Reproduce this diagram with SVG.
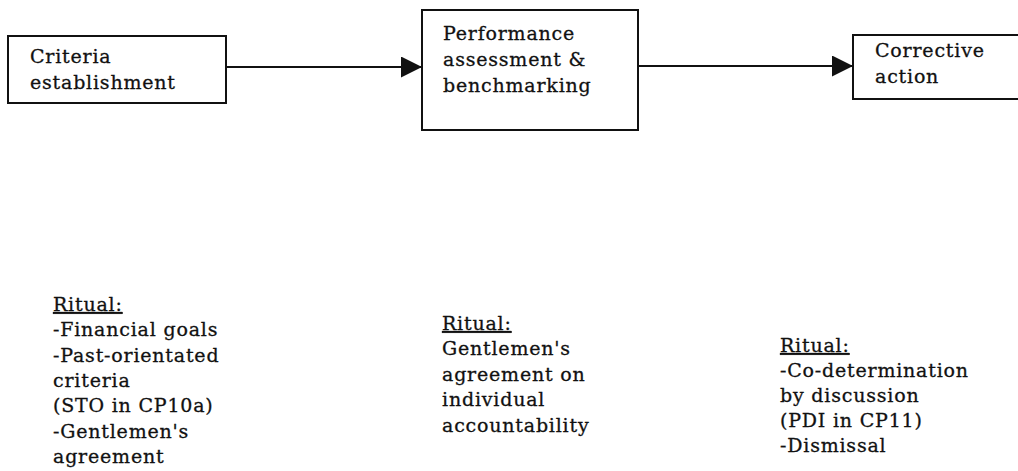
<svg xmlns="http://www.w3.org/2000/svg" width="1018" height="471" viewBox="0 0 1018 471">
  <style>
    .box { fill: #ffffff; stroke: #111111; stroke-width: 2; }
    .lbl, .note { font-family: "DejaVu Serif", "Liberation Serif", serif; font-size: 19px; letter-spacing: 0.8px; fill: #111111; stroke: #111111; stroke-width: 0.3px; }
    .head { text-decoration: underline; }
    .conn { stroke: #111111; stroke-width: 2; fill: none; }
  </style>
  <defs>
    <marker id="arrow" markerUnits="userSpaceOnUse" markerWidth="22" markerHeight="22" refX="21" refY="10.5" orient="auto">
      <path d="M0,0 L21,10.5 L0,21 Z" fill="#111111"/>
    </marker>
  </defs>
  <rect width="1018" height="471" fill="#ffffff"/>

  <!-- process chain -->
  <g id="connectors">
    <line class="conn" x1="226" y1="67" x2="422" y2="67" marker-end="url(#arrow)"/>
    <line class="conn" x1="638" y1="66" x2="853" y2="66" marker-end="url(#arrow)"/>
  </g>

  <g id="criteria">
    <rect class="box" x="8" y="36" width="218" height="67"/>
    <text class="lbl" x="30" y="63">Criteria</text>
    <text class="lbl" x="30" y="89">establishment</text>
  </g>

  <g id="assessment">
    <rect class="box" x="422" y="10" width="216" height="120"/>
    <text class="lbl" x="443" y="40">Performance</text>
    <text class="lbl" x="443" y="66">assessment &amp;</text>
    <text class="lbl" x="443" y="92">benchmarking</text>
  </g>

  <g id="corrective">
    <rect class="box" x="853" y="35" width="180" height="64"/>
    <text class="lbl" x="875" y="57">Corrective</text>
    <text class="lbl" x="875" y="83">action</text>
  </g>

  <!-- rituals attached to each stage -->
  <g id="ritual-criteria">
    <text class="note head" x="53" y="311">Ritual:</text>
    <text class="note" x="53" y="336">-Financial goals</text>
    <text class="note" x="53" y="362">-Past-orientated</text>
    <text class="note" x="53" y="387">criteria</text>
    <text class="note" x="53" y="412">(STO in CP10a)</text>
    <text class="note" x="53" y="438">-Gentlemen's</text>
    <text class="note" x="53" y="463">agreement</text>
  </g>

  <g id="ritual-assessment">
    <text class="note head" x="442" y="330">Ritual:</text>
    <text class="note" x="442" y="355">Gentlemen's</text>
    <text class="note" x="442" y="381">agreement on</text>
    <text class="note" x="442" y="406">individual</text>
    <text class="note" x="442" y="432">accountability</text>
  </g>

  <g id="ritual-corrective">
    <text class="note head" x="780" y="352">Ritual:</text>
    <text class="note" x="780" y="377">-Co-determination</text>
    <text class="note" x="780" y="402">by discussion</text>
    <text class="note" x="780" y="427">(PDI in CP11)</text>
    <text class="note" x="780" y="452">-Dismissal</text>
  </g>
</svg>
